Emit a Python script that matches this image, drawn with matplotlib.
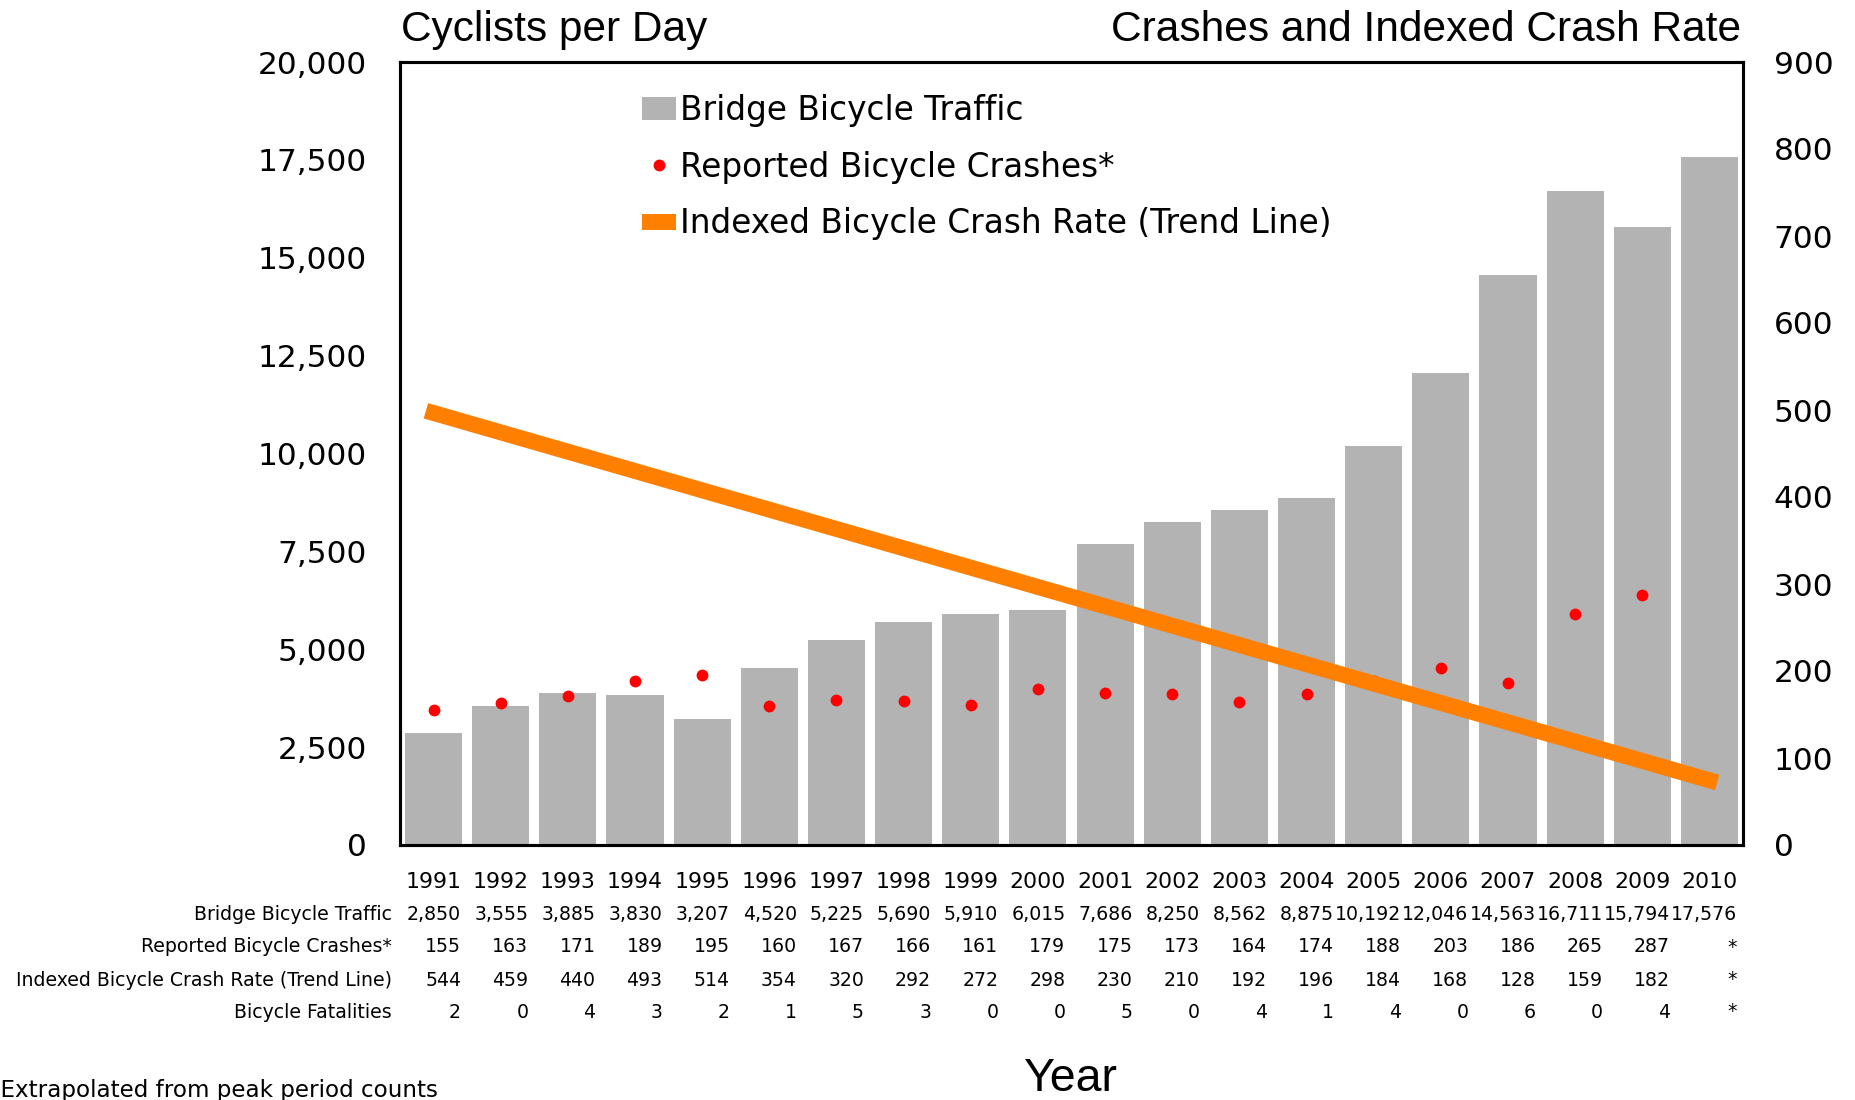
import numpy as np
import matplotlib
matplotlib.use("Agg")
from matplotlib import pyplot as plt
from matplotlib import transforms

years = list(range(1991, 2011))
traffic = [2850, 3555, 3885, 3830, 3207, 4520, 5225, 5690, 5910, 6015,
           7686, 8250, 8562, 8875, 10192, 12046, 14563, 16711, 15794, 17576]
crashes = [155, 163, 171, 189, 195, 160, 167, 166, 161, 179,
           175, 173, 164, 174, 188, 203, 186, 265, 287]
crash_index = [544, 459, 440, 493, 514, 354, 320, 292, 272, 298,
               230, 210, 192, 196, 184, 168, 128, 159, 182]
fatalities = [2, 0, 4, 3, 2, 1, 5, 3, 0, 0, 5, 0, 4, 1, 4, 0, 6, 0, 4]

W, H = 1856, 1100
plt.rcParams['font.family'] = ['DejaVu Sans']

def fx(x):
    return x / W

def fy(y):
    return 1 - y / H

fig = plt.figure(figsize=(W / 100, H / 100), dpi=100)
ax = fig.add_axes([fx(400), fy(845), (1743 - 400) / W, (845 - 62) / H])
ax2 = ax.twinx()

x = np.arange(len(years))

# bars - cyclists per day
bars = ax.bar(x, traffic, width=0.85, color='#b3b3b3', label='Bridge Bicycle Traffic', zorder=1)
ax.set_xlim(-0.5, len(years) - 0.5)
ax.set_ylim(0, 20000)
ax.set_yticks(np.arange(0, 20001, 2500))
ax.set_yticklabels(['{:,}'.format(v) for v in range(0, 20001, 2500)])
ax.tick_params(axis='y', length=0, pad=24, labelsize=22.5)
ax.set_xticks([])

# crashes + trend line on right axis
xc = np.arange(len(crashes))
dots, = ax2.plot(xc, crashes, 'o', color='#ff0000', ms=7.5, label='Reported Bicycle Crashes*')
k, b = np.polyfit(np.arange(len(crash_index)), crash_index, 1)
xt = np.array([0, len(years) - 1])
trend, = ax2.plot(xt, k * xt + b, color='#ff8000', lw=11.5, solid_capstyle='projecting',
                  label='Indexed Bicycle Crash Rate (Trend Line)')
ax2.set_ylim(0, 900)
ax2.set_yticks(np.arange(0, 901, 100))
ax2.tick_params(axis='y', length=0, pad=22, labelsize=22.5)

for a in (ax, ax2):
    for s in a.spines.values():
        s.set_linewidth(2.2)
        s.set_color('black')

leg = ax2.legend(handles=[bars, dots, trend], loc='upper left',
                 bbox_to_anchor=(fx(642), fy(94)), bbox_transform=fig.transFigure,
                 frameon=False, fontsize=23.6, handlelength=1.05, handletextpad=0.12,
                 labelspacing=0.72, borderaxespad=0, borderpad=0)
for h in leg.legend_handles[2:]:
    h.set_solid_capstyle('butt')

# axis titles
fig.text(fx(401), fy(30), 'Cyclists per Day', family='Liberation Sans', fontsize=30.5,
         ha='left', va='center')
fig.text(fx(1741), fy(30), 'Crashes and Indexed Crash Rate', family='Liberation Sans',
         fontsize=30.6, ha='right', va='center')

# data table below the chart
tr = transforms.blended_transform_factory(ax.transData, fig.transFigure)
rows = [
    ('Bridge Bicycle Traffic', ['{:,}'.format(v) for v in traffic], fy(914)),
    ('Reported Bicycle Crashes*', [str(v) for v in crashes] + ['*'], fy(947)),
    ('Indexed Bicycle Crash Rate (Trend Line)', [str(v) for v in crash_index] + ['*'], fy(980)),
    ('Bicycle Fatalities', [str(v) for v in fatalities] + ['*'], fy(1012)),
]
for i, yr in enumerate(years):
    fig.text(i, fy(882), str(yr), transform=tr, ha='center', va='center', fontsize=15.8)
for label, vals, yy in rows:
    fig.text(fx(392), yy, label, ha='right', va='center', fontsize=13.6)
    for i, v in enumerate(vals):
        fig.text(i + 0.41, yy, v, transform=tr, ha='right', va='center', fontsize=13.6)

fig.text(fx(1071), fy(1079), 'Year', family='Liberation Sans', fontsize=33.5,
         ha='center', va='center')
# footnote runs off the left/bottom edge, as in the source
fig.text(fx(438), fy(1091), '*Extrapolated from peak period counts', ha='right',
         va='center', fontsize=16.6)

fig.savefig('out.png', dpi=100)
